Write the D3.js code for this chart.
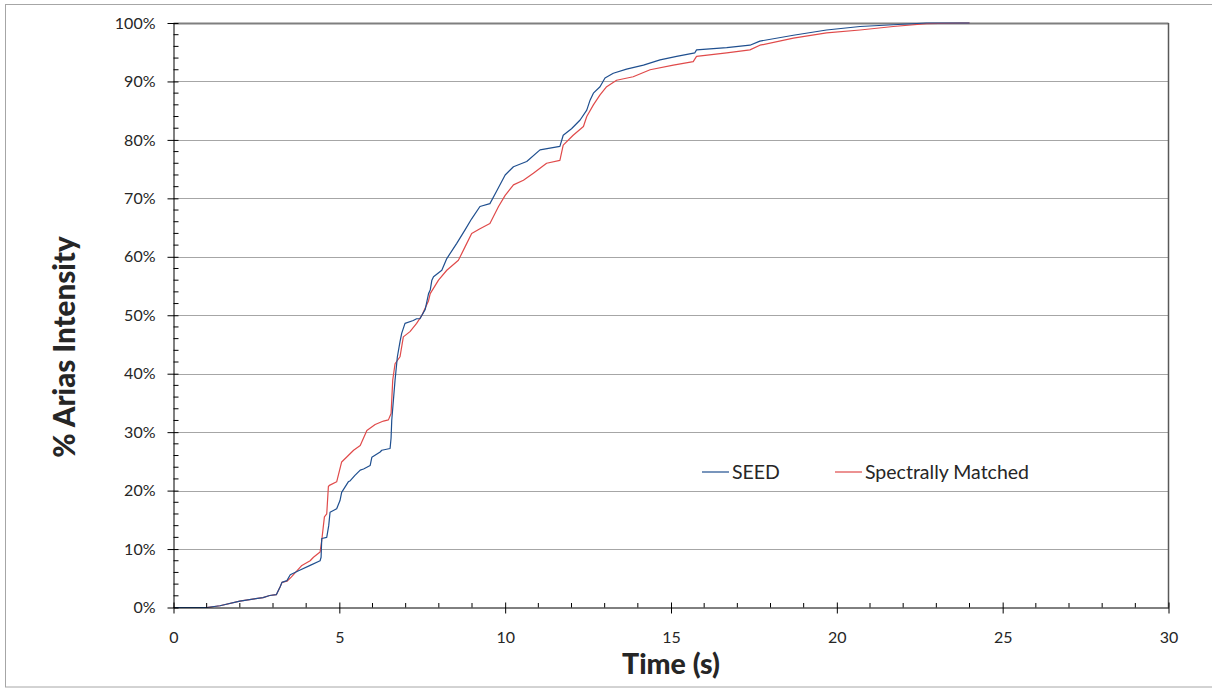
<!DOCTYPE html>
<html>
<head>
<meta charset="utf-8">
<script src="https://cdn.jsdelivr.net/npm/d3@7"></script>
<style>
  html, body { margin: 0; padding: 0; background: #fff; }
  svg { display: block; font-family: Lato, "Open Sans", sans-serif; }
</style>
</head>
<body>
<svg id="chart" width="1212" height="688"></svg>
<script>
// ---- data ----
const seedTime = [0, 1.0, 1.4, 2.0, 2.7, 2.9, 3.1, 3.22, 3.27, 3.42, 3.52, 3.77, 4.12, 4.42, 4.45, 4.47, 4.62, 4.68, 4.72, 4.92, 5.02, 5.07, 5.27, 5.33, 5.47, 5.63, 5.73, 5.93, 5.98, 6.23, 6.28, 6.53, 6.56, 6.58, 6.68, 6.75, 6.83, 6.88, 6.98, 7.23, 7.33, 7.43, 7.59, 7.69, 7.74, 7.79, 7.84, 8.09, 8.24, 8.54, 8.79, 8.99, 9.24, 9.54, 9.7, 10.0, 10.25, 10.65, 11.05, 11.65, 11.75, 12.0, 12.26, 12.46, 12.56, 12.66, 12.86, 13.01, 13.26, 13.66, 14.17, 14.67, 15.17, 15.72, 15.77, 16.68, 17.38, 17.68, 18.69, 19.69, 20.7, 21.7, 22.7, 24.0];
const seedPct  = [0, 0, 0.3, 1.1, 1.7, 2.05, 2.2, 3.6, 4.3, 4.6, 5.6, 6.3, 7.2, 8.0, 8.6, 11.8, 12.0, 14.0, 16.3, 16.9, 18.3, 19.7, 21.5, 21.7, 22.6, 23.5, 23.7, 24.3, 25.7, 26.6, 26.9, 27.2, 29.0, 32.0, 38.9, 42.9, 45.5, 46.9, 48.6, 49.1, 49.4, 49.4, 51.0, 53.7, 54.3, 56.0, 56.6, 57.7, 59.7, 62.3, 64.6, 66.5, 68.6, 69.1, 70.8, 74.0, 75.4, 76.3, 78.3, 78.9, 80.8, 81.9, 83.4, 85.1, 86.8, 88.0, 89.1, 90.6, 91.4, 92.1, 92.8, 93.7, 94.3, 94.9, 95.4, 95.8, 96.2, 96.9, 97.9, 98.8, 99.4, 99.7, 100, 100];

const matchedTime = [0, 1.0, 1.4, 2.0, 2.7, 2.9, 3.1, 3.22, 3.27, 3.42, 3.55, 3.87, 4.12, 4.22, 4.42, 4.47, 4.55, 4.62, 4.67, 4.7, 4.92, 5.07, 5.27, 5.43, 5.63, 5.83, 6.08, 6.33, 6.48, 6.56, 6.61, 6.68, 6.83, 6.93, 7.13, 7.33, 7.49, 7.69, 7.74, 7.99, 8.24, 8.59, 8.79, 8.99, 9.24, 9.54, 9.8, 10.0, 10.25, 10.55, 10.85, 11.25, 11.65, 11.75, 12.05, 12.36, 12.46, 12.66, 12.86, 13.06, 13.36, 13.86, 14.37, 15.07, 15.67, 15.77, 16.68, 17.38, 17.68, 18.69, 19.69, 20.7, 21.7, 22.7, 23.8, 24.0];
const matchedPct  = [0, 0, 0.3, 1.1, 1.7, 2.05, 2.2, 3.6, 4.3, 4.5, 5.2, 7.2, 8.0, 8.6, 9.5, 11.5, 15.5, 16.0, 20.7, 20.9, 21.5, 24.9, 26.0, 26.9, 27.7, 30.3, 31.3, 31.9, 32.1, 33.2, 38.9, 41.7, 42.9, 46.3, 47.2, 48.6, 50.0, 52.5, 53.7, 56.0, 57.7, 59.4, 61.7, 64.0, 64.8, 65.7, 68.6, 70.5, 72.3, 73.1, 74.3, 76.0, 76.5, 79.1, 80.8, 82.3, 84.0, 86.0, 87.7, 89.1, 90.2, 90.8, 92.0, 92.8, 93.4, 94.3, 94.9, 95.4, 96.2, 97.4, 98.3, 98.8, 99.4, 99.9, 100, 100];

const seriesNames = ["SEED", "Spectrally Matched"];
const xTickValues = [0, 5, 10, 15, 20, 25, 30];
const yTickValues = [0, 10, 20, 30, 40, 50, 60, 70, 80, 90, 100];
const xTitle = "Time (s)";
const yTitle = "% Arias Intensity";

(function draw() {
  const svg = d3.select("#chart");
  const pL = 173.5, pR = 1168.5, pT = 23, pB = 607.5;
  const x = d3.scaleLinear().domain([0, 30]).range([pL, pR]);
  const y = d3.scaleLinear().domain([0, 100]).range([pB, pT]);
  const colors = ["#1f4f8f", "#e04a4a"];
  const textColor = "#262626";

  // outer frame (right edge falls just outside the picture, as in the reference)
  svg.append("rect").attr("x", 5.5).attr("y", 4.5).attr("width", 1212).attr("height", 682.5)
    .attr("fill", "none").attr("stroke", "#a6a6a6").attr("stroke-width", 1);

  // gridlines
  svg.append("g").selectAll("line").data(yTickValues.filter(v => v > 0))
    .join("line")
    .attr("x1", pL).attr("x2", pR)
    .attr("y1", d => Math.round(y(d)) + 0.5).attr("y2", d => Math.round(y(d)) + 0.5)
    .attr("stroke", d => d === 100 ? "#7f7f7f" : "#a6a6a6")
    .attr("stroke-width", d => d === 100 ? 2 : 1);

  // right border of plot
  svg.append("line").attr("x1", pR).attr("x2", pR).attr("y1", pT).attr("y2", pB)
    .attr("stroke", "#595959").attr("stroke-width", 1.5);

  // series lines (red drawn first, blue on top)
  const seriesData = [
    { name: seriesNames[0], color: colors[0], pts: d3.zip(seedTime, seedPct) },
    { name: seriesNames[1], color: colors[1], pts: d3.zip(matchedTime, matchedPct) }
  ];
  const line = d3.line().x(d => x(d[0])).y(d => y(d[1]));
  svg.append("g").selectAll("path").data(seriesData.slice().reverse()).join("path")
    .attr("d", d => line(d.pts)).attr("fill", "none")
    .attr("stroke", d => d.color).attr("stroke-width", 1.2)
    .attr("stroke-linejoin", "round");

  // minor ticks
  const xMinor = d3.range(0, 31, 1).filter(v => v % 5 !== 0);
  const yMinor = d3.range(0, 101, 2).filter(v => v % 10 !== 0);

  // x axis
  const xAxis = d3.axisBottom(x).tickValues(xTickValues).tickFormat(d3.format("d")).tickSize(6).tickSizeOuter(0).tickPadding(18);
  const gx = svg.append("g").attr("transform", `translate(0,${pB})`).call(xAxis);
  gx.select(".domain").attr("stroke", "#000");
  gx.selectAll(".tick line").attr("y1", -5).attr("y2", 6).attr("stroke", "#000");
  gx.selectAll(".tick text").attr("font-size", 16).attr("fill", textColor).attr("font-family", "Lato, sans-serif");
  svg.append("g").selectAll("line").data(xMinor).join("line")
    .attr("x1", d => x(d)).attr("x2", d => x(d)).attr("y1", pB - 4.5).attr("y2", pB)
    .attr("stroke", "#000");

  // y axis
  const yAxis = d3.axisLeft(y).tickValues(yTickValues).tickFormat(d => d + "%").tickSize(6).tickSizeOuter(0).tickPadding(12);
  const gy = svg.append("g").attr("transform", `translate(${pL},0)`).call(yAxis);
  gy.select(".domain").attr("stroke", "#000");
  gy.selectAll(".tick line").attr("x1", -6).attr("x2", 5).attr("stroke", "#000");
  gy.selectAll(".tick text").attr("font-size", 16).attr("fill", textColor).attr("font-family", "Lato, sans-serif");
  svg.append("g").selectAll("line").data(yMinor).join("line")
    .attr("x1", pL).attr("x2", pL + 5).attr("y1", d => y(d)).attr("y2", d => y(d))
    .attr("stroke", "#000");

  // axis titles
  svg.append("text").attr("x", 671).attr("y", 674)
    .attr("text-anchor", "middle").attr("font-size", 28.5).attr("font-weight", 900)
    .attr("fill", textColor).text(xTitle);
  svg.append("text").attr("transform", "translate(75,347) rotate(-90)")
    .attr("text-anchor", "middle").attr("font-size", 29.5).attr("font-weight", 900)
    .attr("fill", textColor).text(yTitle);

  // legend
  const legendX = [702, 835];
  const legendY = 472;
  const lg = svg.append("g");
  seriesData.forEach((s, i) => {
    lg.append("line").attr("x1", legendX[i]).attr("x2", legendX[i] + 27)
      .attr("y1", legendY).attr("y2", legendY)
      .attr("stroke", s.color).attr("stroke-width", 1.2);
    lg.append("text").attr("x", legendX[i] + 30).attr("y", legendY + 7)
      .attr("font-size", 19.5).attr("fill", textColor).text(s.name);
  });
})();
</script>
</body>
</html>
